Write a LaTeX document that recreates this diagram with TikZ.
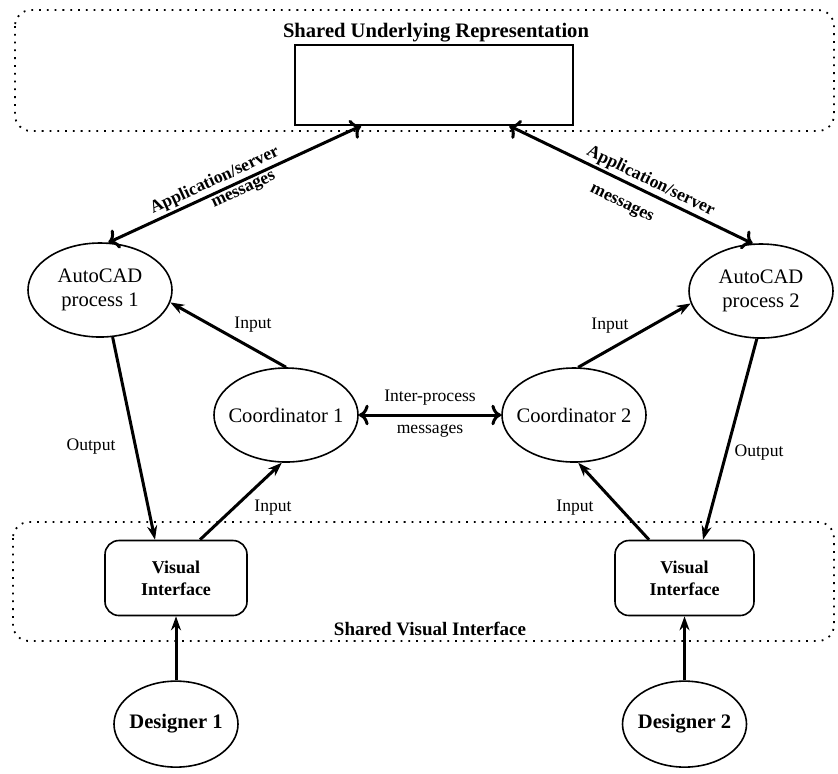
\documentclass[tikz,border=0pt]{standalone}
\usepackage{fontspec}
\setmainfont{Liberation Serif}
\usetikzlibrary{positioning,calc,arrows.meta,shapes.geometric}

\tikzset{
  proc/.style={draw, ellipse, line width=0.8pt, minimum width=72pt, minimum height=47pt,
    align=center, inner xsep=-10pt, inner ysep=0pt, font=\fontsize{10.3}{12}\selectfont},
  person/.style={proc, minimum width=62pt, minimum height=43pt, font=\bfseries\fontsize{10.3}{12}\selectfont},
  vibox/.style={draw, rounded corners=7pt, line width=0.8pt, minimum width=71pt, minimum height=37.5pt,
    align=center, font=\bfseries\fontsize{9}{11}\selectfont},
  region/.style={draw, line width=0.9pt, dash pattern=on 0.9pt off 3pt, rounded corners=8pt},
  msg/.style={line width=1.5pt, -{Stealth[length=7pt,width=5pt]}},
  lbl/.style={font=\fontsize{8.8}{10}\selectfont, inner sep=1pt},
  blbl/.style={lbl, font=\bfseries\fontsize{8.8}{10}\selectfont},
}

\begin{document}
\begin{tikzpicture}[x=0.5pt, y=-0.5pt, node distance=32pt]
        \fill[white] (0,0) rectangle (838,773);
        \useasboundingbox (0,0) rectangle (838,773);

        \draw[region] (15,10) rectangle (834,131);
        \draw[region] (13,522) rectangle (834,641);

        \node[font=\bfseries\fontsize{10.3}{12}\selectfont] (surtitle) at (436,33) {Shared Underlying Representation};
        \node[draw, line width=0.8pt, minimum width=139pt, minimum height=40pt] (sur) at (434,85) {};

        \node[proc] (ac1) at (100,290) {AutoCAD\\process 1};
        \node[proc] (ac2) at (761,291) {AutoCAD\\process 2};
        \node[proc] (co1) at (286,415) {Coordinator 1};
        \node[proc] (co2) at (574,415) {Coordinator 2};

        \node[vibox] (vi1) at (176,578) {Visual\\Interface};
        \node[vibox, minimum width=69.5pt] (vi2) at (684.5,578) {Visual\\Interface};
        \node[font=\bfseries\fontsize{9.5}{11}\selectfont] (svi) at (430,629) {Shared Visual Interface};

        \node[person, below=of vi1] (de1) {Designer 1};
        \node[person, below=of vi2] (de2) {Designer 2};

        \draw[msg, <->] (ac1.80) -- ($(sur.south west)+(67,0)$)
            node[blbl, sloped, above, pos=0.44] {Application/server}
            node[blbl, sloped, below, pos=0.52] {messages};
        \draw[msg, <->] ($(sur.south west)+(215,0)$) -- (ac2.100)
            node[blbl, sloped, above, pos=0.56] {Application/server}
            node[blbl, sloped, below=6pt, pos=0.5] {messages};

        \draw[msg] (co1.north) -- (ac1.-10);
        \draw[msg] (co2.85) -- (ac2.190);
        \draw[msg] (ac1.-75) -- ($(vi1.north)+(-21,0)$);
        \draw[msg] (ac2.-95) -- ($(vi2.north)+(18.5,0)$);
        \draw[msg] ($(vi1.north)+(24,0)$) -- (co1.-95);
        \draw[msg] ($(vi2.north)+(-35.5,0)$) -- (co2.-85);
        \draw[msg, <->] (co1) -- (co2)
            node[lbl, above=3pt, midway] {Inter-process}
            node[lbl, below=3pt, midway] {messages};
        \draw[msg] (de1) -- (vi1);
        \draw[msg] (de2) -- (vi2);

        \node[lbl] (out1) at (91,447) {Output};
        \node[lbl] (out2) at (759,453) {Output};
        \node[lbl] (in1) at (253,325) {Input};
        \node[lbl] (in2) at (610,326) {Input};
        \node[lbl] (in3) at (273,508) {Input};
        \node[lbl] (in4) at (575,508) {Input};
    \end{tikzpicture}
\end{document}
